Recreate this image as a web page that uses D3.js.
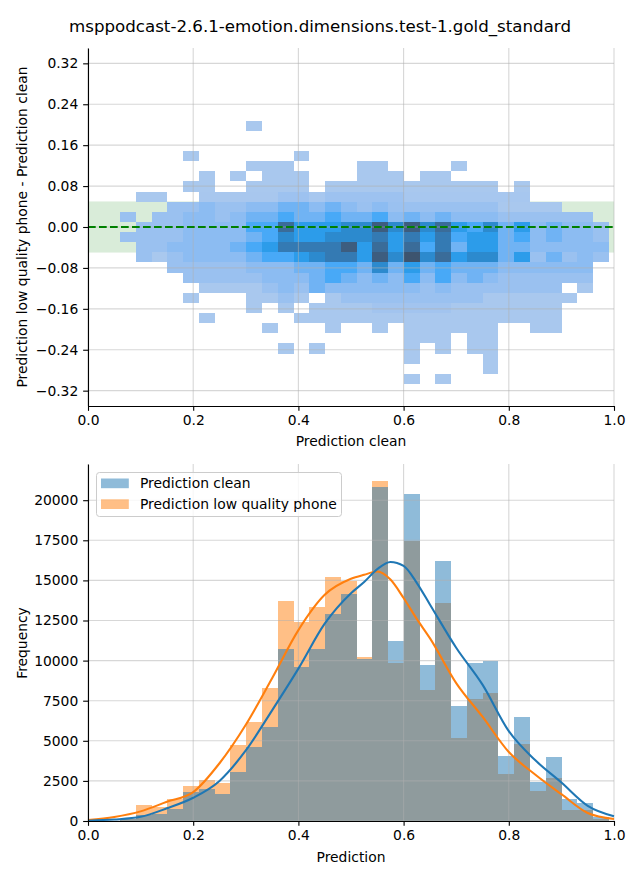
<!DOCTYPE html>
<html><head><meta charset="utf-8">
<script src="https://cdn.jsdelivr.net/npm/d3@7"></script>
<style>body{margin:0;background:#fff} svg text{font-family:"DejaVu Sans",sans-serif;fill:#000}</style>
</head><body><svg id="c" width="640" height="880"></svg>
<script>
// ---------------- DATA ----------------
const title = "msppodcast-2.6.1-emotion.dimensions.test-1.gold_standard";
// shared bin edges (prediction axis)
const xEdges = [0.0610,0.0910,0.1209,0.1509,0.1809,0.2109,0.2408,0.2708,0.3008,0.3307,0.3607,0.3907,0.4206,0.4506,0.4806,0.5106,0.5405,0.5705,0.6005,0.6304,0.6604,0.6904,0.7203,0.7503,0.7803,0.8103,0.8402,0.8702,0.9002,0.9301,0.9601,0.9901];
// difference-axis bin edges (bottom to top)
const yEdges = [-0.3069,-0.2871,-0.2673,-0.2475,-0.2277,-0.2079,-0.1881,-0.1683,-0.1485,-0.1287,-0.1089,-0.0891,-0.0693,-0.0495,-0.0297,-0.0099,0.0099,0.0297,0.0495,0.0693,0.0891,0.1089,0.1287,0.1485,0.1683,0.1881,0.2079];
// 2D histogram counts, rows bottom (-0.297) to top (0.198), 31 columns each
const diffCounts = [
[0,0,0,0,0,0,0,0,0,0,0,0,0,0,0,0,0,0,60,0,60,0,0,0,0,0,0,0,0,0,0],
[0,0,0,0,0,0,0,0,0,0,0,0,0,0,0,0,0,0,0,0,0,0,0,60,0,0,0,0,0,0,0],
[0,0,0,0,0,0,0,0,0,0,0,0,0,0,0,0,0,0,60,0,0,0,0,60,0,0,0,0,0,0,0],
[0,0,0,0,0,0,0,0,0,0,60,0,60,0,0,0,0,0,60,0,60,0,60,60,0,0,0,0,0,0,0],
[0,0,0,0,0,0,0,0,0,0,0,0,0,0,0,0,0,0,60,60,60,0,60,60,0,0,0,0,0,0,0],
[0,0,0,0,0,0,0,0,0,60,0,0,0,60,0,0,60,0,60,60,60,60,60,60,0,0,60,60,0,0,0],
[0,0,0,0,0,60,0,0,0,0,0,60,60,60,60,60,60,60,60,60,60,60,60,60,60,60,60,60,0,0,0],
[0,0,0,0,0,0,0,0,60,0,60,0,60,60,60,60,200,200,200,200,200,60,60,60,60,60,60,60,0,0,0],
[0,0,0,0,60,0,0,0,60,60,350,60,0,60,350,350,350,350,350,350,350,350,350,60,60,60,60,60,60,0,0],
[0,0,0,0,0,60,60,60,60,350,600,350,1000,600,600,600,600,600,600,350,600,350,350,350,350,350,350,350,0,60,0],
[0,0,0,0,350,350,350,350,350,600,600,600,1000,1450,1000,600,1000,600,1450,600,1450,600,1000,600,350,350,350,350,350,350,0],
[0,0,0,350,350,350,350,350,600,600,600,1000,1000,1450,1450,1000,2750,1000,2000,1000,1450,1000,1000,1000,600,600,600,600,600,600,0],
[0,350,60,350,600,600,600,600,1000,1450,1450,2000,2750,3400,3400,2000,4600,2750,5000,2750,4000,2000,2750,2750,1000,2000,350,1000,350,600,350],
[0,350,350,600,600,600,600,1000,1450,2000,3400,3400,3400,3400,4600,2000,4000,2000,4000,1450,3400,1000,2000,2000,1000,1000,600,600,600,600,600],
[350,350,350,350,600,600,600,600,1000,1450,2750,2000,2000,2750,2750,2750,3400,2000,3400,2000,3400,1450,2000,2000,1000,1450,600,1000,600,600,350],
[0,350,350,350,600,600,600,600,1450,1450,4000,2000,2000,2000,2750,2750,4600,2750,4600,2750,4000,2000,1450,2750,1000,2000,600,1000,600,600,350],
[350,0,350,350,600,600,350,600,1000,1000,1450,1000,1000,1450,1000,1000,1450,600,1000,600,1000,600,600,600,350,350,350,350,350,350,0],
[0,0,0,350,350,600,350,350,600,600,1000,1000,600,1000,600,350,600,350,350,350,350,350,350,350,60,60,60,60,0,0,0],
[0,60,60,0,0,80,80,80,80,80,300,300,100,300,300,300,300,300,100,100,100,100,100,100,100,100,0,0,0,0,0],
[0,0,0,0,60,60,0,0,60,60,60,60,0,60,60,60,60,60,60,60,60,60,60,60,0,60,0,0,0,0,0],
[0,0,0,0,0,60,0,60,0,60,60,60,0,0,0,60,60,60,0,60,60,0,0,0,0,0,0,0,0,0,0],
[0,0,0,0,0,0,0,0,60,60,60,0,0,0,0,60,60,0,0,0,0,60,0,0,0,0,0,0,0,0,0],
[0,0,0,0,60,0,0,0,0,0,0,60,0,0,0,0,0,0,0,0,0,0,0,0,0,0,0,0,0,0,0],
[0,0,0,0,0,0,0,0,0,0,0,0,0,0,0,0,0,0,0,0,0,0,0,0,0,0,0,0,0,0,0],
[0,0,0,0,0,0,0,0,0,0,0,0,0,0,0,0,0,0,0,0,0,0,0,0,0,0,0,0,0,0,0],
[0,0,0,0,0,0,0,0,60,0,0,0,0,0,0,0,0,0,0,0,0,0,0,0,0,0,0,0,0,0,0]
];
const toleranceBand = [-0.05, 0.05];
const topYTicks = [-0.32,-0.24,-0.16,-0.08,0,0.08,0.16,0.24,0.32];
const xTicks = [0,0.2,0.4,0.6,0.8,1.0];

const seriesNames = ["Prediction clean","Prediction low quality phone"];
const histClean = [120,380,450,770,1790,2000,1690,3070,4630,5880,10720,9620,10720,12900,14150,10100,20850,11220,20390,9730,16210,7170,9870,9950,4050,6480,2450,3990,1370,1120,230];
const histPhone = [150,1000,850,1360,2200,2560,2350,4730,6160,8280,13720,12430,13360,15190,14980,10200,21200,9870,17480,8170,13590,5195,7610,8000,2930,4800,1870,2700,690,700,100];
const kdeX     = [0,0.05,0.1,0.15,0.2,0.25,0.3,0.35,0.4,0.45,0.5,0.525,0.55,0.575,0.6,0.625,0.65,0.7,0.75,0.8,0.85,0.9,0.95,1.0];
const kdeClean = [20,90,260,790,1450,2500,4400,6900,9500,12300,14200,14900,15700,16150,15900,14850,13500,10800,8500,5600,3800,2400,950,300];
const kdePhone = [60,250,600,1200,1800,3600,6000,8900,11900,14100,15100,15350,15550,15050,13900,12600,11400,8600,6500,4300,2900,1670,500,120];
const botYTicks = [0,2500,5000,7500,10000,12500,15000,17500,20000];

// ---------------- HUSL colormap (seaborn style) ----------------
const M=[[3.2406,-1.5372,-0.4986],[-0.9689,1.8758,0.0415],[0.0557,-0.2040,1.0570]];
const Minv=[[0.4124,0.3576,0.1805],[0.2126,0.7152,0.0722],[0.0193,0.1192,0.9505]];
const refU=0.19784, refV=0.46834, labE=0.008856, labK=903.3;
function maxChroma(L,H){const hr=H*Math.PI/180,s=Math.sin(hr),c=Math.cos(hr);
 const sub1=Math.pow(L+16,3)/1560896;const sub2=sub1>labE?sub1:L/labK;let res=Infinity;
 for(const [m1,m2,m3] of M){const top=(0.99915*m1+1.05122*m2+1.14460*m3)*sub2;
  const rb=0.86330*m3-0.17266*m2, lb=0.12949*m3-0.38848*m1;const bottom=(rb*s+lb*c)*sub2;
  for(const t of [0,1]){const C=L*(top-1.05122*t)/(bottom+0.17266*s*t);if(C>0&&C<res)res=C;}}
 return res;}
function huslToRgb(H,S,L){if(L>99.9999)return[1,1,1];if(L<1e-5)return[0,0,0];
 const C=maxChroma(L,H)/100*S;const hr=H*Math.PI/180;const U=C*Math.cos(hr),V=C*Math.sin(hr);
 const fy=(L+16)/116;const Y=Math.pow(fy,3)>labE?Math.pow(fy,3):(116*fy-16)/labK;
 const vU=U/(13*L)+refU,vV=V/(13*L)+refV;
 const X=-(9*Y*vU)/((vU-4)*vV-vU*vV);const Z=(9*Y-15*vV*Y-vV*X)/(3*vV);
 return M.map(r=>{const c=r[0]*X+r[1]*Y+r[2]*Z;const v=c<=0.0031308?12.92*c:1.055*Math.pow(c,1/2.4)-0.055;return Math.min(1,Math.max(0,v));});}
function rgbToHusl(r,g,b){const lin=c=>c>0.04045?Math.pow((c+0.055)/1.055,2.4):c/12.92;
 const rl=[lin(r),lin(g),lin(b)];const [X,Y,Z]=Minv.map(w=>w[0]*rl[0]+w[1]*rl[1]+w[2]*rl[2]);
 const d=X+15*Y+3*Z;const vU=4*X/d,vV=9*Y/d;const f=t=>t>labE?Math.cbrt(t):7.787*t+16/116;
 const L=116*f(Y)-16;const U=13*L*(vU-refU),V=13*L*(vV-refV);
 const C=Math.hypot(U,V);let H=Math.atan2(V,U)*180/Math.PI;if(H<0)H+=360;
 return [H,C/maxChroma(L,H)*100,L];}
const seed=d3.rgb("#1f77b4");
const [hh,ss]=rgbToHusl(seed.r/255,seed.g/255,seed.b/255);
const cmapColors=[];
for(let i=0;i<256;i++){const xx=-1+2*i/293;const rgb=huslToRgb(hh,ss*Math.cos(xx),35+45*i/255);
 cmapColors.push(d3.rgb(rgb[0]*255,rgb[1]*255,rgb[2]*255).formatHex());}
cmapColors.reverse();
const vmax=d3.max(diffCounts.flat());
const cmap=v=>cmapColors[Math.min(255,Math.floor(v/vmax*256))];

// ---------------- DRAW ----------------
const svg=d3.select("#c");
const FS="13.89px";
svg.append("text").attr("x",320).attr("y",32).attr("text-anchor","middle").style("font-size","16.67px").text(title);

// ---- top panel ----
const x1=d3.scaleLinear([0,1],[88,614]);
const y1=d3.scaleLinear([-0.35,0.35],[406,48]);
const g1=svg.append("g");
g1.append("rect").attr("x",x1(0)).attr("width",x1(1)-x1(0))
 .attr("y",y1(toleranceBand[1])).attr("height",y1(toleranceBand[0])-y1(toleranceBand[1]))
 .attr("fill","green").attr("fill-opacity",0.15);
const cells=[];
diffCounts.forEach((row,i)=>row.forEach((v,k)=>{if(v>0)cells.push({i,k,v});}));
g1.selectAll("rect.cell").data(cells).join("rect").attr("class","cell")
 .attr("x",d=>x1(xEdges[d.k])).attr("width",d=>x1(xEdges[d.k+1])-x1(xEdges[d.k]))
 .attr("y",d=>y1(yEdges[d.i+1])).attr("height",d=>y1(yEdges[d.i])-y1(yEdges[d.i+1]))
 .attr("fill",d=>cmap(d.v)).attr("shape-rendering","crispEdges");
// grid
g1.selectAll("line.gy").data(topYTicks).join("line").attr("x1",88).attr("x2",614)
 .attr("y1",d=>y1(d)).attr("y2",d=>y1(d)).attr("stroke","#b0b0b0").attr("stroke-opacity",0.5).attr("stroke-width",1.1);
g1.selectAll("line.gx").data(xTicks).join("line").attr("y1",48).attr("y2",406)
 .attr("x1",d=>x1(d)).attr("x2",d=>x1(d)).attr("stroke","#b0b0b0").attr("stroke-opacity",0.5).attr("stroke-width",1.1);
g1.append("line").attr("x1",x1(0)).attr("x2",x1(1)).attr("y1",y1(0)).attr("y2",y1(0))
 .attr("stroke","green").attr("stroke-width",2).attr("stroke-dasharray","7.7,3.3");

function styleAxis(g){g.selectAll("text").style("font-size",FS).style("font-family","DejaVu Sans");
 g.select(".domain").attr("stroke-width",1.1);g.selectAll(".tick line").attr("stroke-width",1.1);}
svg.append("g").attr("transform","translate(0,406)")
 .call(d3.axisBottom(x1).tickValues(xTicks).tickFormat(d3.format(".1f")).tickSize(4.86).tickPadding(4.5).tickSizeOuter(0)).call(styleAxis);
svg.append("g").attr("transform","translate(88,0)")
 .call(d3.axisLeft(y1).tickValues(topYTicks).tickFormat(d3.format(".2f")).tickSize(4.86).tickPadding(4.86).tickSizeOuter(0)).call(styleAxis);
svg.append("text").attr("x",351).attr("y",446).attr("text-anchor","middle").style("font-size",FS).text("Prediction clean");
svg.append("text").attr("transform","translate(27,227) rotate(-90)").attr("text-anchor","middle").style("font-size",FS)
 .text("Prediction low quality phone - Prediction clean");

// ---- bottom panel ----
const x2=d3.scaleLinear([0,1],[88,614]);
const y2=d3.scaleLinear([0,22257],[821,464]);
const g2=svg.append("g");
const bars=(vals,color)=>g2.append("g").selectAll("rect").data(vals).join("rect")
 .attr("x",(d,k)=>x2(xEdges[k])).attr("width",(d,k)=>x2(xEdges[k+1])-x2(xEdges[k]))
 .attr("y",d=>y2(d)).attr("height",d=>y2(0)-y2(d)).attr("fill",color).attr("fill-opacity",0.5).attr("shape-rendering","crispEdges");
bars(histPhone,"#ff7f0e");
bars(histClean,"#1f77b4");
g2.selectAll("line.gy").data(botYTicks).join("line").attr("x1",88).attr("x2",614)
 .attr("y1",d=>y2(d)).attr("y2",d=>y2(d)).attr("stroke","#b0b0b0").attr("stroke-opacity",0.5).attr("stroke-width",1.1);
g2.selectAll("line.gx").data(xTicks).join("line").attr("y1",464).attr("y2",821)
 .attr("x1",d=>x2(d)).attr("x2",d=>x2(d)).attr("stroke","#b0b0b0").attr("stroke-opacity",0.5).attr("stroke-width",1.1);
const line=d3.line().x((d,i)=>x2(kdeX[i])).y(d=>y2(d)).curve(d3.curveMonotoneX);
g2.append("path").datum(kdePhone).attr("d",line).attr("fill","none").attr("stroke","#ff7f0e").attr("stroke-width",2.08);
g2.append("path").datum(kdeClean).attr("d",line).attr("fill","none").attr("stroke","#1f77b4").attr("stroke-width",2.08);
svg.append("g").attr("transform","translate(0,821)")
 .call(d3.axisBottom(x2).tickValues(xTicks).tickFormat(d3.format(".1f")).tickSize(4.86).tickPadding(4.5).tickSizeOuter(0)).call(styleAxis);
svg.append("g").attr("transform","translate(88,0)")
 .call(d3.axisLeft(y2).tickValues(botYTicks).tickFormat(d3.format("d")).tickSize(4.86).tickPadding(4.86).tickSizeOuter(0)).call(styleAxis);
svg.append("text").attr("x",351).attr("y",862).attr("text-anchor","middle").style("font-size",FS).text("Prediction");
svg.append("text").attr("transform","translate(27,643) rotate(-90)").attr("text-anchor","middle").style("font-size",FS).text("Frequency");

// legend
const lg=svg.append("g");
lg.append("rect").attr("x",96.5).attr("y",472.5).attr("width",245).attr("height",44).attr("rx",3)
 .attr("fill","#fff").attr("fill-opacity",0.8).attr("stroke","#cccccc").attr("stroke-width",1);
const legColors=["#1f77b4","#ff7f0e"];
seriesNames.forEach((n,i)=>{
 lg.append("rect").attr("x",101).attr("y",478.5+i*20.8).attr("width",27.8).attr("height",9.7).attr("fill",legColors[i]).attr("fill-opacity",0.5);
 lg.append("text").attr("x",140).attr("y",488+i*20.8).style("font-size",FS).text(n);
});
</script></body></html>
